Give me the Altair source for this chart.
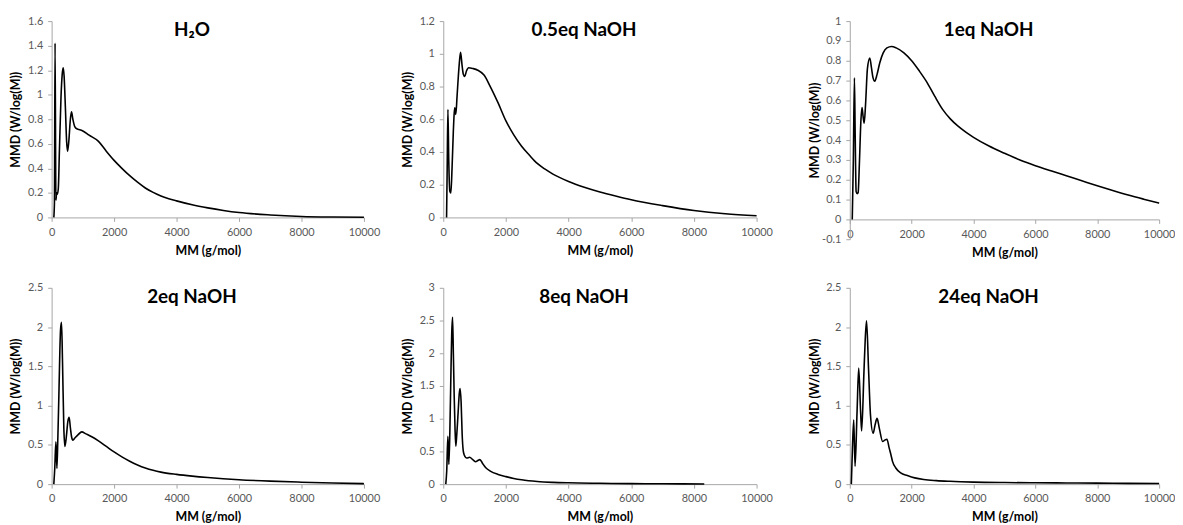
import altair as alt
import pandas as pd

FONT = "Lato"

# ---------------- data ----------------
x_ticks = [0, 2000, 4000, 6000, 8000, 10000]

h2o_x = [70, 90, 110, 137, 160, 185, 215, 250, 300, 340, 370, 400, 440, 480, 510, 550, 600, 637, 680, 740,
         820, 900, 1000, 1200, 1500, 1750, 2000, 2250, 2500, 2750, 3000, 3250, 3500, 3750, 4000, 4500, 5000,
         5500, 6000, 7000, 8000, 9000, 10000]
h2o_y = [0, 0.12, 1.42, 0.14, 0.2, 0.19, 0.24, 0.55, 0.98, 1.17, 1.22, 1.15, 0.9, 0.62, 0.54, 0.62, 0.8, 0.86,
         0.8, 0.74, 0.72, 0.715, 0.705, 0.67, 0.62, 0.54, 0.465, 0.4, 0.34, 0.287, 0.24, 0.204, 0.175, 0.153,
         0.135, 0.103, 0.078, 0.057, 0.04, 0.02, 0.008, 0.003, 0.001]
h2o_ticks = [0, 0.2, 0.4, 0.6, 0.8, 1, 1.2, 1.4, 1.6]

eq05_x = [105, 125, 148, 175, 210, 243, 280, 320, 350, 369, 400, 440, 480, 520, 552, 600, 640, 684, 740, 810,
          950, 1100, 1300, 1500, 1750, 2000, 2250, 2500, 2750, 3000, 3250, 3500, 4000, 4500, 5000, 5500, 6000,
          7000, 8000, 9000, 10000]
eq05_y = [0, 0.3, 0.66, 0.35, 0.16, 0.15, 0.3, 0.52, 0.64, 0.67, 0.63, 0.74, 0.86, 0.96, 1.01, 0.93, 0.875,
          0.862, 0.895, 0.915, 0.91, 0.9, 0.87, 0.8, 0.7, 0.59, 0.505, 0.435, 0.38, 0.33, 0.295, 0.265, 0.22,
          0.185, 0.156, 0.131, 0.108, 0.072, 0.042, 0.022, 0.01]
eq05_ticks = [0, 0.2, 0.4, 0.6, 0.8, 1, 1.2]

eq1_x = [80, 115, 150, 175, 205, 240, 270, 310, 360, 395, 430, 465, 510, 570, 647, 700, 750, 808, 880, 970,
         1080, 1200, 1350, 1500, 1750, 2000, 2250, 2500, 2750, 3000, 3250, 3500, 3750, 4000, 4500, 5000, 5500,
         6000, 6500, 7000, 7500, 8000, 8500, 9000, 9500, 10000]
eq1_y = [0, 0.3, 0.714, 0.42, 0.14, 0.13, 0.135, 0.28, 0.5, 0.564, 0.52, 0.485, 0.58, 0.76, 0.814, 0.765,
         0.715, 0.697, 0.73, 0.79, 0.84, 0.865, 0.872, 0.865, 0.84, 0.8, 0.748, 0.69, 0.62, 0.555, 0.507, 0.47,
         0.44, 0.414, 0.37, 0.334, 0.3, 0.271, 0.245, 0.22, 0.195, 0.17, 0.146, 0.123, 0.102, 0.082]
eq1_ticks = [-0.1, 0, 0.1, 0.2, 0.3, 0.4, 0.5, 0.6, 0.7, 0.8, 0.9, 1]

eq2_x = [70, 100, 137, 169, 200, 232, 286, 317, 349, 391, 425, 470, 520, 561, 600, 640, 680, 750, 850, 963,
         1100, 1300, 1500, 1750, 2000, 2250, 2500, 2750, 3000, 3250, 3500, 4000, 4500, 5000, 6000, 7000, 8000,
         9000, 10000]
eq2_y = [0, 0.2, 0.54, 0.2, 0.6, 1.13, 1.97, 2.06, 1.55, 0.71, 0.48, 0.6, 0.8, 0.85, 0.72, 0.6, 0.56, 0.59,
         0.63, 0.666, 0.64, 0.6, 0.55, 0.48, 0.41, 0.347, 0.292, 0.245, 0.206, 0.176, 0.153, 0.124, 0.102,
         0.084, 0.056, 0.038, 0.025, 0.014, 0.006]
eq2_ticks = [0, 0.5, 1, 1.5, 2, 2.5]

eq8_x = [80, 110, 147, 178, 210, 241, 270, 296, 322, 348, 375, 400, 430, 476, 510, 539, 570, 603, 635, 666,
         750, 840, 950, 1036, 1100, 1170, 1250, 1350, 1500, 1750, 2000, 2250, 2500, 3000, 3500, 4000, 5000,
         6000, 7000, 8330]
eq8_y = [0, 0.2, 0.73, 0.3, 0.8, 1.61, 2.3, 2.55, 2.0, 1.36, 0.85, 0.58, 0.75, 1.11, 1.38, 1.46, 1.25, 0.76,
         0.52, 0.45, 0.40, 0.41, 0.37, 0.343, 0.36, 0.375, 0.32, 0.255, 0.2, 0.148, 0.115, 0.087, 0.066, 0.04,
         0.027, 0.02, 0.013, 0.008, 0.005, 0.002]
eq8_ticks = [0, 0.5, 1, 1.5, 2, 2.5, 3]

eq24_x = [50, 86, 127, 171, 235, 288, 350, 383, 458, 500, 542, 606, 669, 755, 820, 882, 955, 1063, 1130, 1200,
          1274, 1330, 1381, 1487, 1646, 1860, 2100, 2389, 2800, 3239, 4000, 5000, 6000, 7000, 8000, 9000, 10000]
eq24_y = [0, 0.46, 0.817, 0.227, 0.92, 1.477, 0.92, 0.678, 1.43, 1.85, 2.08, 1.47, 0.88, 0.648, 0.76, 0.837,
          0.71, 0.543, 0.56, 0.572, 0.458, 0.375, 0.29, 0.206, 0.143, 0.11, 0.08, 0.059, 0.045, 0.036, 0.026,
          0.02, 0.017, 0.015, 0.013, 0.01, 0.008]
eq24_ticks = [0, 0.5, 1, 1.5, 2, 2.5]

LABEL_EXPR = "datum.value < 0 ? '-' + format(-datum.value, '~g') : format(datum.value, '~g')"


def make_panel(title, xs, ys, yticks, w, h, xoff=0):
    df = pd.DataFrame({"MM": xs, "MMD": ys})
    return (
        alt.Chart(
            df,
            title=alt.TitleParams(
                title, fontSize=19, font=FONT, fontWeight="bold", color="black",
                anchor="middle", frame="group", dx=-16, offset=-25,
            ),
        )
        .mark_line(color="black", strokeWidth=1.6, interpolate="monotone")
        .encode(
            x=alt.X(
                "MM:Q",
                scale=alt.Scale(domain=[x_ticks[0], x_ticks[-1]], nice=False, zero=False),
                axis=alt.Axis(title="MM (g/mol)", values=x_ticks, format="d",
                              offset=xoff, labelFlush=False, labelPadding=5, titlePadding=7),
            ),
            y=alt.Y(
                "MMD:Q",
                scale=alt.Scale(domain=[yticks[0], yticks[-1]], nice=False, zero=False),
                axis=alt.Axis(title="MMD (W/log(M))", values=yticks, labelExpr=LABEL_EXPR,
                              labelPadding=5, titleX=-36, titleY=h / 2, titleAngle=270,
                              titleBaseline="middle", titleAlign="center"),
            ),
        )
        .properties(width=w, height=h)
    )


p1 = make_panel("H₂O", h2o_x, h2o_y, h2o_ticks, 315, 198)
p2 = make_panel("0.5eq NaOH", eq05_x, eq05_y, eq05_ticks, 316, 198)
p3 = make_panel("1eq NaOH", eq1_x, eq1_y, eq1_ticks, 312, 220, xoff=-20)
p4 = make_panel("2eq NaOH", eq2_x, eq2_y, eq2_ticks, 315, 198)
p5 = make_panel("8eq NaOH", eq8_x, eq8_y, eq8_ticks, 316, 198)
p6 = make_panel("24eq NaOH", eq24_x, eq24_y, eq24_ticks, 312, 198)

row1 = alt.hconcat(p1, alt.hconcat(p2, p3, spacing=36), spacing=22)
row2 = alt.hconcat(p4, alt.hconcat(p5, p6, spacing=36), spacing=22)

chart = (
    alt.vconcat(row1, row2, spacing=23)
    .properties(padding={"left": 2, "top": 5, "right": 0, "bottom": 0})
    .configure_view(stroke=None)
    .configure_axis(
        grid=False,
        domainColor="#a6a6a6",
        tickColor="#a6a6a6",
        tickSize=4,
        labelColor="#595959",
        labelFont=FONT,
        labelFontSize=11,
        titleFont=FONT,
        titleFontSize=12.5,
        titleFontWeight="bold",
        titleColor="black",
    )
)

chart.save("out.html", embed_options={"renderer": "svg", "actions": False})
